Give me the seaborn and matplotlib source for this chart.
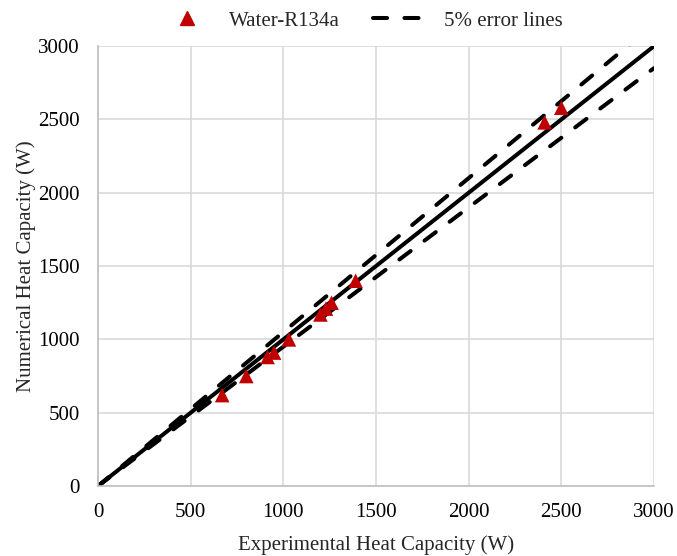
import matplotlib
matplotlib.use("Agg")
import matplotlib.pyplot as plt
import seaborn as sns
import pandas as pd
import numpy as np
from matplotlib.lines import Line2D

# Data
exp_heat = [670, 800, 915, 950, 1030, 1200, 1230, 1260, 1390, 2410, 2500]
num_heat = [620, 750, 880, 910, 1000, 1170, 1210, 1250, 1400, 2480, 2580]
ref_x = [0, 3000]
ticks = [0, 500, 1000, 1500, 2000, 2500, 3000]

sns.set_theme(style="white")
plt.rcParams['font.family'] = ['Liberation Serif', 'DejaVu Serif']

fig = plt.figure(figsize=(6.77, 5.56), dpi=100)
ax = fig.add_axes([0.1448, 0.1259, 0.966 - 0.1448, 0.917 - 0.1259])

lines_df = pd.DataFrame({
    "x": ref_x,
    "y": ref_x,
    "up": [v * 1.05 for v in ref_x],
    "lo": [v * 0.95 for v in ref_x],
})

lw = 2.9
dash = [3.5, 4.3]
sns.lineplot(data=lines_df, x="x", y="up", ax=ax, color="black", lw=lw)
ax.lines[-1].set_dashes(dash)
ax.lines[-1].set_dash_capstyle("round")
sns.lineplot(data=lines_df, x="x", y="lo", ax=ax, color="black", lw=lw)
ax.lines[-1].set_dashes(dash)
ax.lines[-1].set_dash_capstyle("round")
sns.lineplot(data=lines_df, x="x", y="y", ax=ax, color="black", lw=lw)

pts = pd.DataFrame({"Experimental": exp_heat, "Numerical": num_heat})
sns.scatterplot(data=pts, x="Experimental", y="Numerical", ax=ax, marker="^",
                s=110, color="#c00000", edgecolor="none", zorder=5)

ax.set_xlim(0, 3000)
ax.set_ylim(0, 3000)
ax.set_xticks(ticks)
ax.set_yticks(ticks)
ax.grid(True, color="#d9d9d9", lw=1.2)
ax.set_axisbelow(True)
for s in ["top", "right"]:
    ax.spines[s].set_visible(False)
for s in ["left", "bottom"]:
    ax.spines[s].set_color("#bfbfbf")
    ax.spines[s].set_linewidth(1.2)
ax.tick_params(axis="both", length=0, labelsize=15, colors="black")
ax.tick_params(axis="x", pad=12)
ax.tick_params(axis="y", pad=13)
ax.set_xlabel("Experimental Heat Capacity (W)", fontsize=15, labelpad=10)
ax.set_ylabel("Numerical Heat Capacity (W)", fontsize=15, labelpad=2)

handles = [
    Line2D([], [], marker="^", color="#c00000", ls="none", markersize=10),
    Line2D([], [], color="black", lw=lw, dashes=dash, dash_capstyle="round"),
]
fig.legend(handles, ["Water-R134a", "5% error lines"], loc="upper center",
           bbox_to_anchor=(0.532, 1.014), ncol=2, frameon=False, fontsize=15,
           handlelength=2.8, columnspacing=1.6, handletextpad=0.6)

fig.savefig("out.png", dpi=100)
